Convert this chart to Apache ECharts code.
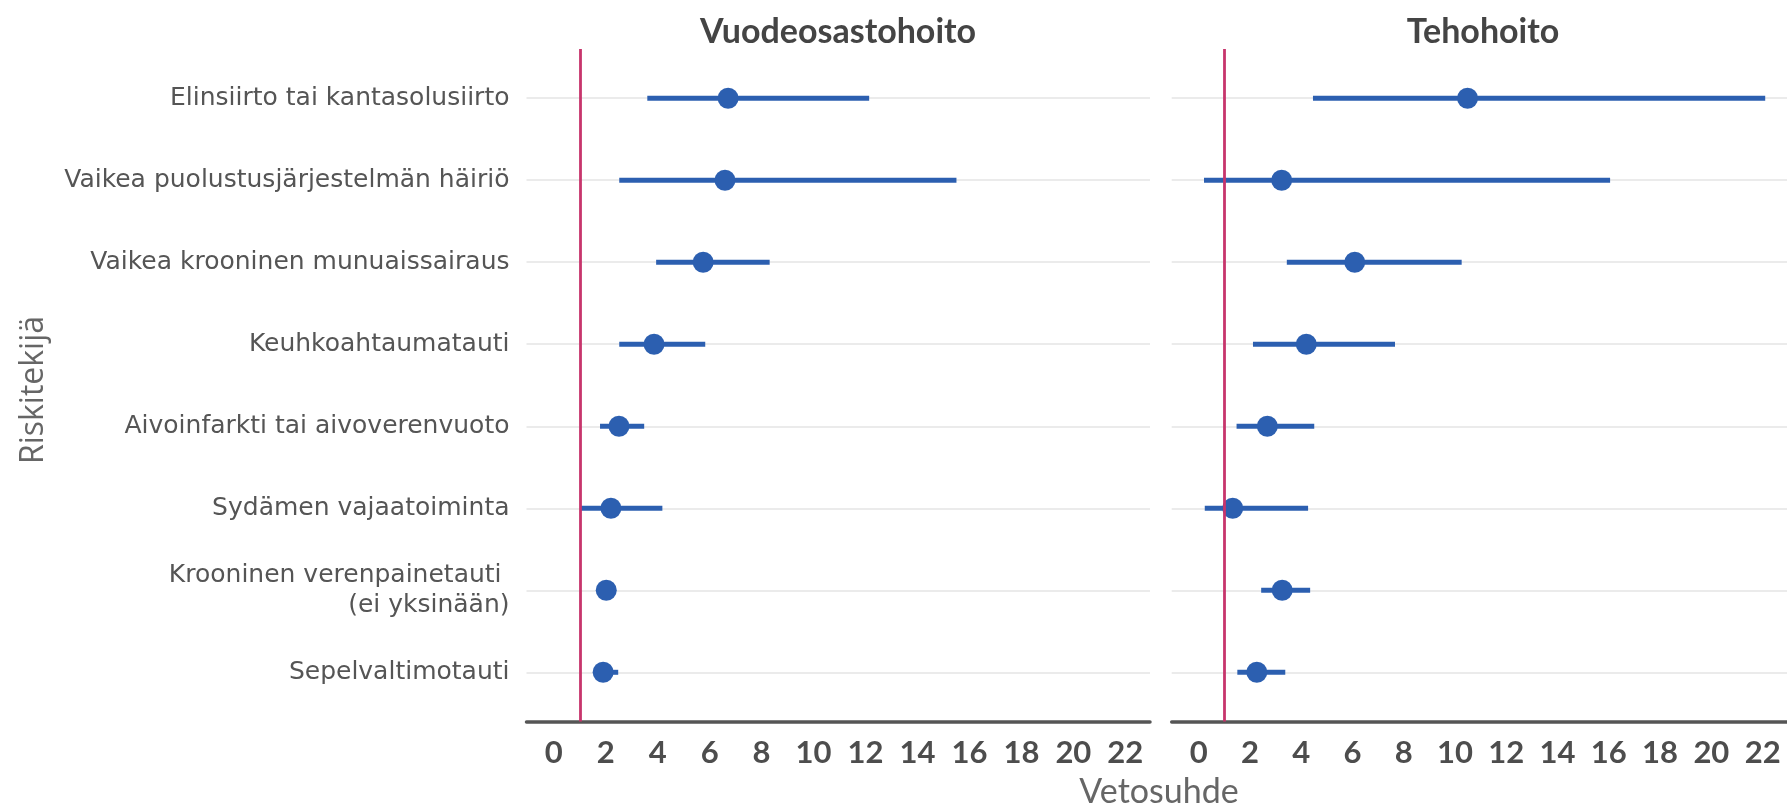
<!DOCTYPE html>
<html>
<head>
<meta charset="utf-8">
<script src="https://cdn.jsdelivr.net/npm/echarts@6/dist/echarts.min.js"></script>
<style>
html,body{margin:0;padding:0;background:#fff;}
#chart{width:1787px;height:803px;}
</style>
</head>
<body>
<div id="chart"></div>
<script>
// ---- data ----
const categories = [
  "Elinsiirto tai kantasolusiirto",
  "Vaikea puolustusjärjestelmän häiriö",
  "Vaikea krooninen munuaissairaus",
  "Keuhkoahtaumatauti",
  "Aivoinfarkti tai aivoverenvuoto",
  "Sydämen vajaatoiminta",
  "Krooninen verenpainetauti \n(ei yksinään)",
  "Sepelvaltimotauti"
];
const panelTitles = ["Vuodeosastohoito", "Tehohoito"];
const wardOR   = [6.71, 6.59, 5.75, 3.86, 2.51, 2.20, 2.02, 1.90];
const wardLow  = [3.60, 2.52, 3.94, 2.52, 1.78, 1.01, 1.85, 1.70];
const wardHigh = [12.14, 15.50, 8.31, 5.83, 3.48, 4.18, 2.30, 2.48];
const icuOR    = [10.49, 3.24, 6.09, 4.20, 2.68, 1.33, 3.26, 2.27];
const icuLow   = [4.46, 0.21, 3.44, 2.12, 1.48, 0.24, 2.44, 1.51];
const icuHigh  = [22.10, 16.05, 10.26, 7.66, 4.51, 4.27, 4.35, 3.38];
const xTicks = [0, 2, 4, 6, 8, 10, 12, 14, 16, 18, 20, 22];
const referenceLine = 1;
const xTitle = "Vetosuhde";
const yTitle = "Riskitekijä";

// ---- styles ----
const BLUE = '#2c5fb0';
const RED = '#c7356c';
const rowPos = categories.map((c, i) => i + 1);

function xAxisCfg(idx) {
  return {
    gridIndex: idx, type: 'value', min: -1.05, max: 22.95,
    axisLine: { show: true, lineStyle: { color: '#555', width: 3.5 } },
    axisTick: { show: false },
    splitLine: { show: false },
    axisLabel: {
      customValues: xTicks, margin: 16,
      fontFamily: 'Lato', fontWeight: 'bold', fontSize: 31, color: '#4d4d4d'
    }
  };
}
function yAxisCfg(idx, showLabels) {
  return {
    gridIndex: idx, type: 'value', min: 0.4, max: 8.6, inverse: true,
    axisLine: { show: false },
    axisTick: { show: false, customValues: rowPos },
    splitLine: { show: true, lineStyle: { color: '#ebebeb', width: 2 } },
    axisLabel: {
      show: showLabels, customValues: rowPos, margin: 17,
      fontFamily: 'DejaVu Sans', fontSize: 25, color: '#555', lineHeight: 30,
      align: 'right',
      formatter: v => categories[Math.round(v) - 1] || ''
    }
  };
}
function whisker(idx, low, high) {
  return {
    type: 'custom', xAxisIndex: idx, yAxisIndex: idx,
    data: low.map((l, i) => [l, high[i], i + 1]),
    encode: { x: [0, 1], y: 2 },
    renderItem: function (params, api) {
      const a = api.coord([api.value(0), api.value(2)]);
      const b = api.coord([api.value(1), api.value(2)]);
      return { type: 'line', shape: { x1: a[0], y1: a[1], x2: b[0], y2: b[1] },
               style: { stroke: BLUE, lineWidth: 5, lineCap: 'butt' } };
    },
    z: 3,
    markLine: {
      silent: true, symbol: 'none', label: { show: false },
      lineStyle: { color: RED, width: 2.8, type: 'solid' },
      data: [{ xAxis: referenceLine }]
    }
  };
}
function points(idx, or) {
  return {
    type: 'scatter', xAxisIndex: idx, yAxisIndex: idx,
    data: or.map((v, i) => [v, i + 1]),
    symbol: 'circle', symbolSize: 21,
    itemStyle: { color: BLUE, opacity: 1 }, z: 4
  };
}

const chart = echarts.init(document.getElementById('chart'), null, { renderer: 'canvas' });
chart.setOption({
  backgroundColor: '#fff',
  animation: false,
  title: [
    { text: panelTitles[0], left: 833, top: 10, textAlign: 'center',
      textStyle: { fontFamily: 'Lato', fontWeight: 'bold', fontSize: 34, color: '#444' } },
    { text: panelTitles[1], left: 1478, top: 10, textAlign: 'center',
      textStyle: { fontFamily: 'Lato', fontWeight: 'bold', fontSize: 34, color: '#444' } },
    { text: xTitle, left: 1154, top: 770, textAlign: 'center',
      textStyle: { fontFamily: 'Lato', fontWeight: 'normal', fontSize: 34, color: '#666' } }
  ],
  graphic: [{
    type: 'text', x: 34, y: 390, rotation: Math.PI / 2,
    style: { text: yTitle, fontFamily: 'Open Sans', fontSize: 32, fill: '#666',
             textAlign: 'center', textVerticalAlign: 'middle' }
  }],
  grid: [
    { left: 526.5, right: 637, top: 49, bottom: 81.5 },
    { left: 1171.7, right: -5.6, top: 49, bottom: 81.5 }
  ],
  xAxis: [xAxisCfg(0), xAxisCfg(1)],
  yAxis: [yAxisCfg(0, true), yAxisCfg(1, false)],
  series: [
    whisker(0, wardLow, wardHigh), points(0, wardOR),
    whisker(1, icuLow, icuHigh), points(1, icuOR)
  ]
});
</script>
</body>
</html>
